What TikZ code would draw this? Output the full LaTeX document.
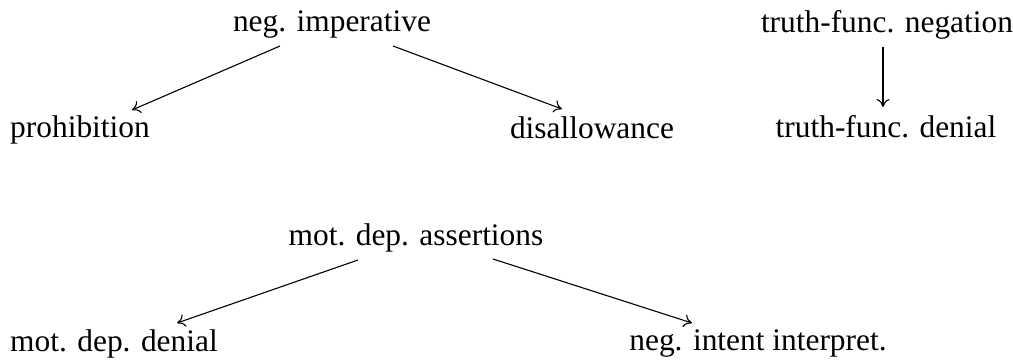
\documentclass[tikz,border=0pt]{standalone}
\usepackage{fontspec}
\setmainfont{Liberation Serif}
\usetikzlibrary{arrows.meta,calc}
\begin{document}
\begin{tikzpicture}[x=1pt,y=-1pt,
  lbl/.style={anchor=base,inner sep=0pt,font=\fontsize{31.4}{36}\selectfont},
  conn/.style={-{To[length=8pt,width=13pt]},line width=1.1pt}]
\useasboundingbox (0,0) rectangle (1013,360);
\node[lbl] (ni) at (332,31) {neg. imperative};
\node[lbl] (tn) at (887,32) {truth-func. negation};
\node[lbl] (pr) at (80,137) {prohibition};
\node[lbl] (di) at (592,138) {disallowance};
\node[lbl] (td) at (886,137) {truth-func. denial};
\node[lbl] (ma) at (416,245) {mot. dep. assertions};
\node[lbl] (md) at (114,351) {mot. dep. denial};
\node[lbl] (nn) at (758,350) {neg. intent interpret.};
\draw[conn] ($(ni.base)+(-52,15)$) -- ($(pr.base)+(52,-27)$);
\draw[conn] ($(ni.base)+(61,15)$) -- ($(di.base)+(-30,-29)$);
\draw[conn] ($(tn.base)+(-4,15)$) -- ($(td.base)+(-3,-30)$);
\draw[conn] ($(ma.base)+(-58,15)$) -- ($(md.base)+(63,-28)$);
\draw[conn] ($(ma.base)+(77,14)$) -- ($(nn.base)+(-66,-27)$);
\end{tikzpicture}
\end{document}
